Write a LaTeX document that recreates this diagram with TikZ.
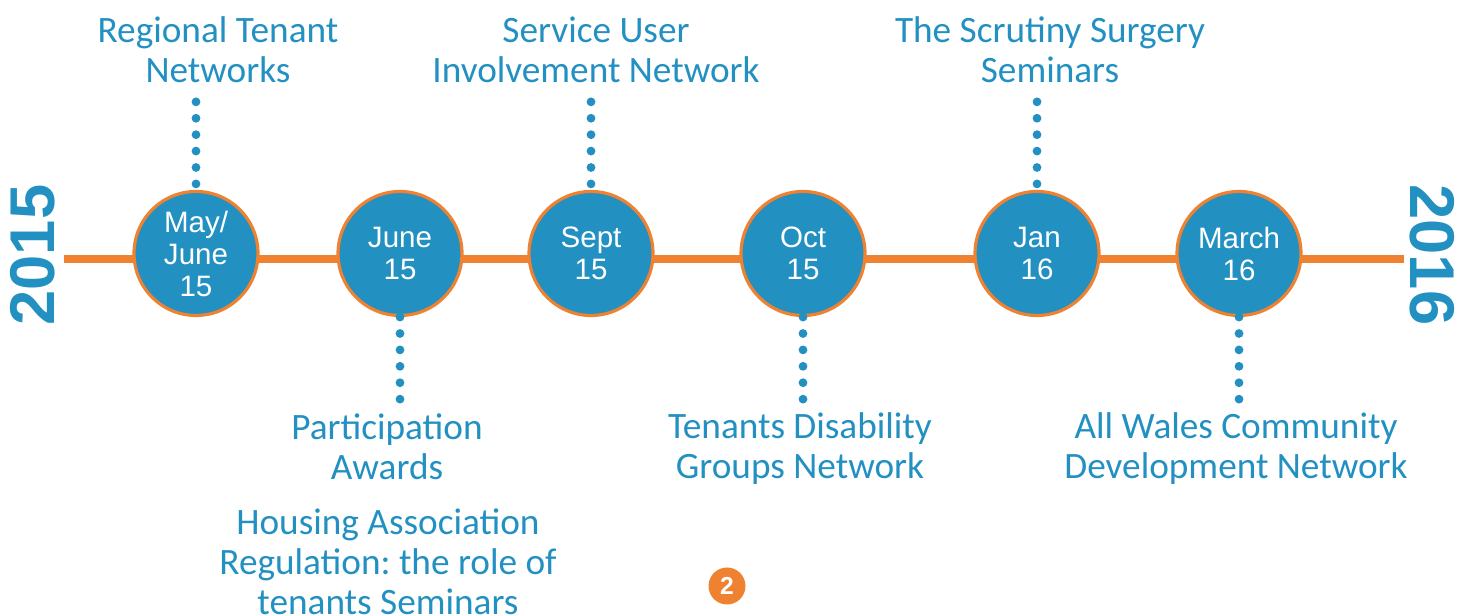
\documentclass[tikz,border=0pt]{standalone}
\usepackage{fontspec}
\setmainfont{Carlito}
\newfontfamily\datefont{Liberation Sans}
\definecolor{tlblue}{HTML}{2390C2}
\definecolor{tlorange}{HTML}{EE8231}
\frenchspacing

\begin{document}
\begin{tikzpicture}[
    month/.style={circle, fill=tlblue, draw=tlorange, line width=0.9pt, minimum size=1.24cm, inner sep=0pt, text=white, font=\datefont\fontsize{8.4}{9.1}\selectfont, align=center},
    event/.style={text=tlblue, inner sep=0pt, font=\fontsize{10.6}{11.4}\selectfont, align=center},
    year/.style={text=tlblue, font=\datefont\bfseries\fontsize{18}{18}\selectfont},
    dotline/.style={tlblue, line width=2.5pt, line cap=round, dash pattern=on 0pt off 4.67pt},
    dotup/.style={dotline, shorten <=0.06cm, shorten >=0.1cm}
  ]
  \useasboundingbox (0,0) rectangle (14.7,-6.16);
  % timeline
  \coordinate (start) at (0.64,-2.59);
  \coordinate (end) at (14.04,-2.59);
  \draw[tlorange, line width=2.3pt] (start) -- (end);
  \node[year, rotate=90] (y15) at (0.33,-2.55) {2015};
  \node[year, rotate=-90] (y16) at (14.32,-2.55) {2016};

  % months
  \node[month] (m1) at (1.96,-2.535) {May/\\June\\15};
  \node[month] (m2) at (4.00,-2.535) {June\\15};
  \node[month] (m3) at (5.91,-2.535) {Sept\\15};
  \node[month] (m4) at (8.03,-2.535) {Oct\\15};
  \node[month] (m5) at (10.37,-2.535) {Jan\\16};
  \node[month] (m6) at (12.39,-2.535) {March\\16};

  % events above
  \node[event] (t1) at (2.18,-0.50) {Regional Tenant\\Networks};
  \node[event] (t3) at (5.96,-0.50) {Service User\\Involvement Network};
  \node[event] (t5) at (10.50,-0.50) {The Scrutiny Surgery\\Seminars};
  % events below
  \node[event] (t2) at (3.87,-4.465) {Participation\\Awards};
  \node[event] (t4) at (8.00,-4.49) {Tenants Disability\\Groups Network};
  \node[event] (t6) at (12.36,-4.49) {All Wales Community\\Development Network};
  \node[event] (t7) at (3.88,-5.62) {Housing Association\\Regulation: the role of\\tenants Seminars};

  \draw[dotup] (m1.north) -- (m1.north |- t1.south);
  \draw[dotup] (m3.north) -- (m3.north |- t3.south);
  \draw[dotup] (m5.north) -- (m5.north |- t5.south);
  \draw[dotline] (m2.south) -- (m2.south |- t2.north);
  \draw[dotline] (m4.south) -- (m4.south |- t4.north);
  \draw[dotline] (m6.south) -- (m6.south |- t6.north);

  % page number
  \node[circle, fill=tlorange, minimum size=0.37cm, inner sep=0pt, text=white, font=\datefont\bfseries\fontsize{7}{7}\selectfont] (pg) at (7.27,-5.86) {2};
\end{tikzpicture}
\end{document}
